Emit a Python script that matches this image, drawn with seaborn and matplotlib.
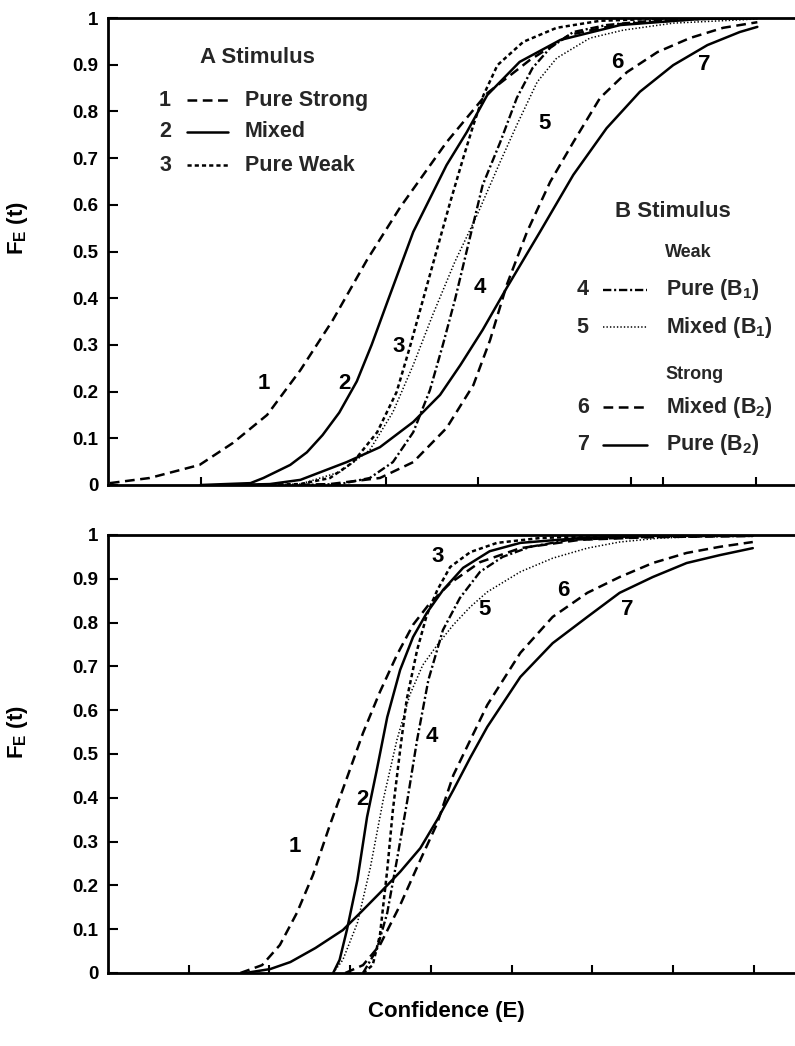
import matplotlib
matplotlib.use("Agg")
import matplotlib.pyplot as plt
import seaborn as sns

# ---------------------------------------------------------------------------
# Cumulative confidence distributions F_E(t); x in confidence units
# ---------------------------------------------------------------------------

# Upper panel
upper_x_1 = [0.02, 0.45, 0.99, 1.35, 1.72, 2.08, 2.43, 2.80, 3.16, 3.66, 4.10, 4.56, 4.99, 5.54, 6.40, 7.02]
upper_f_1 = [0.004, 0.015, 0.043, 0.09, 0.15, 0.246, 0.353, 0.482, 0.595, 0.734, 0.839, 0.91, 0.964, 0.987, 0.998, 1.0]

upper_x_2 = [1.0, 1.54, 1.68, 1.97, 2.15, 2.32, 2.50, 2.69, 2.85, 3.02, 3.30, 3.66, 3.88, 4.10, 4.45, 4.89, 5.54, 6.40, 7.02]
upper_f_2 = [0.0, 0.004, 0.015, 0.043, 0.07, 0.107, 0.155, 0.222, 0.30, 0.392, 0.542, 0.685, 0.756, 0.835, 0.906, 0.953, 0.985, 0.998, 1.0]

upper_x_3 = [1.54, 2.08, 2.40, 2.65, 2.91, 3.12, 3.26, 3.41, 3.56, 3.70, 3.84, 3.95, 4.06, 4.21, 4.49, 4.85, 5.32, 6.18, 7.02]
upper_f_3 = [0.0, 0.002, 0.015, 0.049, 0.113, 0.199, 0.293, 0.40, 0.507, 0.606, 0.70, 0.771, 0.835, 0.899, 0.949, 0.979, 0.994, 1.0, 1.0]

upper_x_4 = [2.08, 2.51, 2.83, 3.08, 3.30, 3.48, 3.62, 3.75, 3.88, 4.05, 4.24, 4.42, 4.59, 4.78, 5.03, 5.39, 5.97, 7.02]
upper_f_4 = [0.0, 0.002, 0.015, 0.049, 0.113, 0.203, 0.30, 0.396, 0.503, 0.642, 0.734, 0.829, 0.893, 0.936, 0.970, 0.985, 0.996, 1.0]

upper_x_5 = [1.54, 2.08, 2.51, 2.83, 3.08, 3.30, 3.51, 3.75, 3.99, 4.24, 4.42, 4.64, 4.85, 5.21, 5.57, 6.11, 6.83, 7.02]
upper_f_5 = [0.0, 0.002, 0.028, 0.075, 0.156, 0.257, 0.364, 0.478, 0.578, 0.692, 0.771, 0.863, 0.914, 0.957, 0.974, 0.989, 0.996, 0.998]

upper_x_6 = [2.08, 2.40, 2.94, 3.30, 3.66, 3.95, 4.13, 4.31, 4.53, 4.78, 5.03, 5.32, 5.61, 5.94, 6.29, 6.65, 7.02]
upper_f_6 = [0.0, 0.002, 0.015, 0.049, 0.122, 0.214, 0.31, 0.428, 0.542, 0.649, 0.734, 0.829, 0.884, 0.927, 0.957, 0.979, 0.991]

upper_x_7 = [1.32, 1.75, 2.08, 2.58, 2.94, 3.30, 3.59, 3.81, 4.05, 4.31, 4.67, 5.03, 5.39, 5.75, 6.11, 6.48, 6.83, 7.02]
upper_f_7 = [0.0, 0.002, 0.011, 0.049, 0.081, 0.135, 0.193, 0.257, 0.332, 0.422, 0.542, 0.664, 0.764, 0.842, 0.899, 0.942, 0.970, 0.981]

# Lower panel
lower_x_1 = [1.64, 1.91, 2.13, 2.34, 2.54, 2.75, 2.96, 3.16, 3.37, 3.58, 3.78, 3.97, 4.24, 4.61, 5.11, 5.85, 6.72, 7.99]
lower_f_1 = [0.0, 0.018, 0.064, 0.137, 0.224, 0.338, 0.445, 0.548, 0.642, 0.726, 0.795, 0.84, 0.89, 0.938, 0.970, 0.989, 0.995, 0.998]

lower_x_2 = [2.79, 2.87, 2.96, 3.09, 3.21, 3.33, 3.46, 3.62, 3.78, 3.95, 4.15, 4.40, 4.73, 5.11, 5.85, 6.72, 7.99]
lower_f_2 = [0.0, 0.03, 0.098, 0.212, 0.356, 0.463, 0.584, 0.692, 0.767, 0.822, 0.874, 0.925, 0.963, 0.982, 0.993, 0.998, 0.998]

lower_x_3 = [3.16, 3.28, 3.37, 3.46, 3.53, 3.62, 3.70, 3.83, 3.95, 4.08, 4.24, 4.49, 4.82, 5.35, 6.10, 7.09]
lower_f_3 = [0.0, 0.018, 0.087, 0.235, 0.372, 0.509, 0.623, 0.737, 0.817, 0.874, 0.927, 0.961, 0.982, 0.993, 0.998, 1.0]

lower_x_4 = [3.16, 3.33, 3.46, 3.58, 3.71, 3.83, 3.97, 4.15, 4.36, 4.61, 4.89, 5.23, 5.72, 6.59, 7.99]
lower_f_4 = [0.0, 0.053, 0.137, 0.258, 0.395, 0.532, 0.669, 0.783, 0.856, 0.916, 0.95, 0.973, 0.989, 0.995, 0.998]

lower_x_5 = [2.79, 2.91, 3.09, 3.25, 3.41, 3.58, 3.74, 3.90, 4.08, 4.28, 4.49, 4.70, 5.11, 5.51, 5.94, 6.34, 6.84, 7.58]
lower_f_5 = [0.0, 0.03, 0.114, 0.24, 0.395, 0.532, 0.635, 0.703, 0.749, 0.795, 0.836, 0.87, 0.916, 0.947, 0.97, 0.984, 0.993, 0.998]

lower_x_6 = [2.94, 3.16, 3.37, 3.62, 3.87, 4.08, 4.28, 4.49, 4.70, 5.11, 5.51, 5.94, 6.34, 6.75, 7.17, 7.58, 7.99]
lower_f_6 = [0.0, 0.018, 0.064, 0.155, 0.258, 0.342, 0.452, 0.532, 0.612, 0.731, 0.813, 0.868, 0.904, 0.936, 0.959, 0.973, 0.984]

lower_x_7 = [1.70, 2.01, 2.26, 2.57, 2.91, 3.14, 3.37, 3.62, 3.87, 4.08, 4.28, 4.49, 4.70, 5.11, 5.51, 5.94, 6.34, 6.75, 7.17, 7.58, 7.99]
lower_f_7 = [0.0, 0.009, 0.025, 0.057, 0.098, 0.14, 0.183, 0.231, 0.285, 0.35, 0.418, 0.492, 0.562, 0.676, 0.753, 0.813, 0.868, 0.904, 0.936, 0.954, 0.970]

y_ticks = [0, 0.1, 0.2, 0.3, 0.4, 0.5, 0.6, 0.7, 0.8, 0.9, 1]
y_tick_labels = ["0", "0.1", "0.2", "0.3", "0.4", "0.5", "0.6", "0.7", "0.8", "0.9", "1"]
upper_x_ticks = [1, 3, 4, 5.65, 6, 7]
lower_x_ticks = [1, 2, 3, 4, 5, 6, 7, 8]

curve_ids = ["1", "2", "3", "4", "5", "6", "7"]

# ---------------------------------------------------------------------------
# Styling
# ---------------------------------------------------------------------------
sns.set_style("ticks")
plt.rcParams["font.family"] = ["Liberation Sans", "DejaVu Sans"]
plt.rcParams["font.weight"] = "bold"
plt.rcParams["axes.labelweight"] = "bold"
plt.rcParams["mathtext.default"] = "regular"
plt.rcParams["lines.scale_dashes"] = False

LINE_STYLES = {
    "1": dict(linestyle=(0, (7, 4)), linewidth=1.8),
    "2": dict(linestyle="-", linewidth=1.8),
    "3": dict(linestyle=(0, (3, 2.2)), linewidth=1.8),
    "4": dict(linestyle=(0, (6, 2, 1.5, 2)), linewidth=1.7),
    "5": dict(linestyle=(0, (1, 1.5)), linewidth=1.1),
    "6": dict(linestyle=(0, (7, 4)), linewidth=1.8),
    "7": dict(linestyle="-", linewidth=1.8),
}

fig = plt.figure(figsize=(7.95, 10.46), dpi=100)
ax_up = fig.add_axes([0.13585, 0.53633, 0.86415, 0.44646])
ax_lo = fig.add_axes([0.13585, 0.06979, 0.86415, 0.41874])


def style_axes(ax, xmax, xticks):
    ax.set_xlim(0, xmax)
    ax.set_ylim(0, 1)
    ax.set_xticks(xticks)
    ax.set_xticklabels([])
    ax.set_yticks(y_ticks)
    ax.set_yticklabels(y_tick_labels)
    ax.tick_params(axis="both", direction="in", color="black", width=1.5)
    ax.tick_params(axis="y", length=7, pad=7, labelsize=13.5, labelcolor="black")
    ax.tick_params(axis="x", length=6)
    for side in ("left", "bottom", "top"):
        ax.spines[side].set_visible(True)
        ax.spines[side].set_linewidth(2.0)
        ax.spines[side].set_color("black")
    ax.spines["right"].set_visible(False)
    ax.set_xlabel("")
    ax.set_ylabel(r"F$_{E}$ (t)", fontsize=16, color="black")
    ax.yaxis.set_label_coords(-0.113, 0.55)


def draw_curves(ax, xs, fs):
    for cid, x, f in zip(curve_ids, xs, fs):
        sns.lineplot(x=x, y=f, ax=ax, color="black", sort=False,
                     estimator=None, errorbar=None, **LINE_STYLES[cid])


def label_curves(ax, positions):
    for cid, (lx, ly) in zip(curve_ids, positions):
        ax.text(lx, ly, cid, fontsize=16, ha="center", va="center", color="black")


draw_curves(ax_up,
            [upper_x_1, upper_x_2, upper_x_3, upper_x_4, upper_x_5, upper_x_6, upper_x_7],
            [upper_f_1, upper_f_2, upper_f_3, upper_f_4, upper_f_5, upper_f_6, upper_f_7])
draw_curves(ax_lo,
            [lower_x_1, lower_x_2, lower_x_3, lower_x_4, lower_x_5, lower_x_6, lower_x_7],
            [lower_f_1, lower_f_2, lower_f_3, lower_f_4, lower_f_5, lower_f_6, lower_f_7])

style_axes(ax_up, 7.427, upper_x_ticks)
style_axes(ax_lo, 8.513, lower_x_ticks)

label_curves(ax_up, [(1.68, 0.218), (2.56, 0.218), (3.14, 0.296), (4.02, 0.422),
                     (4.72, 0.775), (5.51, 0.904), (6.45, 0.90)])
label_curves(ax_lo, [(2.32, 0.288), (3.15, 0.395), (4.09, 0.95), (4.01, 0.539),
                     (4.67, 0.829), (5.64, 0.874), (6.43, 0.829)])

ax_lo.set_xlabel("Confidence (E)", fontsize=16, color="black")
ax_lo.xaxis.set_label_coords(0.493, -0.089)
ax_lo.xaxis.label.set_va("center")


# Keys drawn inside the upper panel
def key_row(ax, num, num_x, line_x0, line_x1, text_x, y, cid, label):
    tr = ax.transAxes
    ax.text(num_x, y, num, transform=tr, fontsize=15.5, ha="center", va="center")
    ax.plot([line_x0, line_x1], [y, y], transform=tr, color="black",
            clip_on=False, **LINE_STYLES[cid])
    ax.text(text_x, y, label, transform=tr, fontsize=15.5, ha="left", va="center")


ax_up.text(0.134, 0.916, "A Stimulus", transform=ax_up.transAxes,
           fontsize=16, ha="left", va="center")
key_row(ax_up, "1", 0.083, 0.115, 0.175, 0.199, 0.824, "1", "Pure Strong")
key_row(ax_up, "2", 0.083, 0.115, 0.175, 0.199, 0.756, "2", "Mixed")
key_row(ax_up, "3", 0.083, 0.115, 0.175, 0.199, 0.685, "3", "Pure Weak")

ax_up.text(0.738, 0.585, "B Stimulus", transform=ax_up.transAxes,
           fontsize=16, ha="left", va="center")
ax_up.text(0.811, 0.497, "Weak", transform=ax_up.transAxes,
           fontsize=13, ha="left", va="center")
key_row(ax_up, "4", 0.691, 0.720, 0.785, 0.812, 0.418, "4", r"Pure (B$_{1}$)")
key_row(ax_up, "5", 0.691, 0.720, 0.785, 0.812, 0.338, "5", r"Mixed (B$_{1}$)")
ax_up.text(0.811, 0.236, "Strong", transform=ax_up.transAxes,
           fontsize=13, ha="left", va="center")
key_row(ax_up, "6", 0.691, 0.720, 0.785, 0.812, 0.167, "6", r"Mixed (B$_{2}$)")
key_row(ax_up, "7", 0.691, 0.720, 0.785, 0.812, 0.086, "7", r"Pure (B$_{2}$)")

fig.savefig("out.png", dpi=100)
